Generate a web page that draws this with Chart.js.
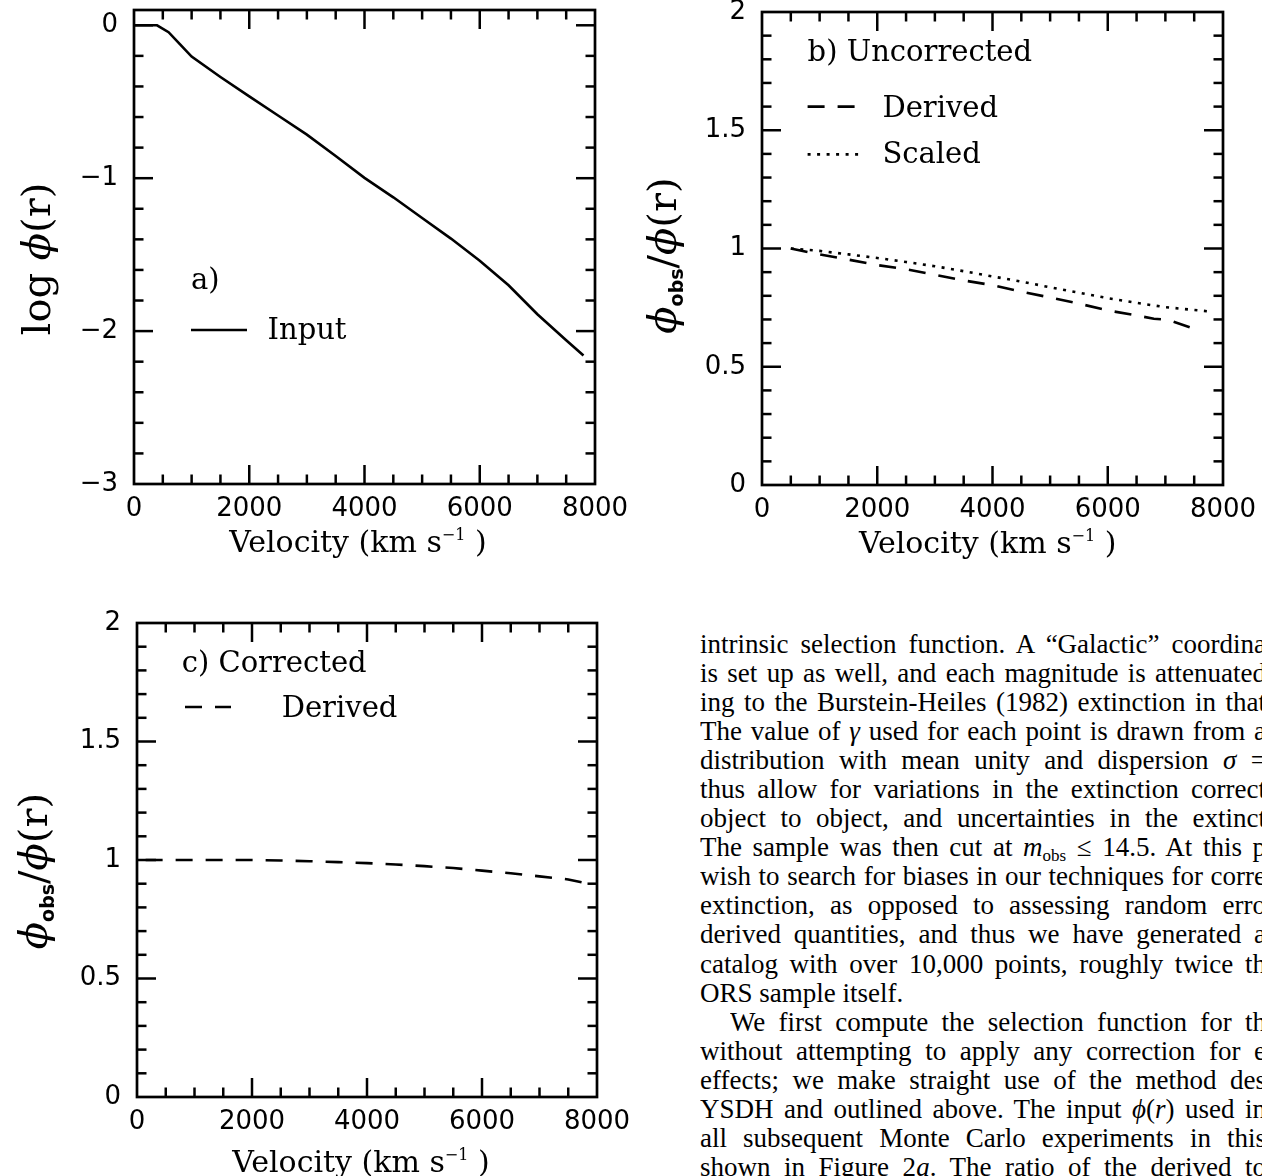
<!DOCTYPE html>
<html>
<head>
<meta charset="utf-8">
<script src="https://cdn.jsdelivr.net/npm/chart.js@4.4.1/dist/chart.umd.min.js"></script>
<style>
html,body{margin:0;padding:0;background:#fff;}
body{width:1262px;height:1176px;position:relative;overflow:hidden;}
canvas{position:absolute;}
#text{position:absolute;left:700px;top:630px;width:562px;height:546px;overflow:hidden;
  font-family:"Liberation Serif","Times New Roman",serif;font-size:27px;color:#000;}
.ln{height:29.05px;line-height:29.05px;width:566px;text-align:justify;text-align-last:justify;overflow:hidden;}
.ln.last{text-align:left;text-align-last:left;}
.ln.ind{margin-left:30px;width:536px;}
.sb{font-size:17px;vertical-align:-5px;line-height:0;}
</style>
</head>
<body>
<canvas id="chartA" width="640" height="590" style="left:0;top:0;width:640px;height:590px"></canvas>
<canvas id="chartB" width="632" height="590" style="left:630px;top:0;width:632px;height:590px"></canvas>
<canvas id="chartC" width="640" height="576" style="left:0;top:600px;width:640px;height:576px"></canvas>
<div id="text">
<div class="ln">intrinsic selection function. A “Galactic” coordina</div>
<div class="ln">is set up as well, and each magnitude is attenuated</div>
<div class="ln">ing to the Burstein-Heiles (1982) extinction in that d</div>
<div class="ln">The value of <i>γ</i> used for each point is drawn from a G</div>
<div class="ln">distribution with mean unity and dispersion <i>σ</i> =</div>
<div class="ln">thus allow for variations in the extinction correct</div>
<div class="ln">object to object, and uncertainties in the extinct</div>
<div class="ln">The sample was then cut at <i>m</i><span class="sb">obs</span> ≤ 14.5. At this p</div>
<div class="ln">wish to search for biases in our techniques for corre</div>
<div class="ln">extinction, as opposed to assessing random erro</div>
<div class="ln">derived quantities, and thus we have generated a</div>
<div class="ln">catalog with over 10,000 points, roughly twice th</div>
<div class="ln last">ORS sample itself.</div>
<div class="ln ind">We first compute the selection function for th</div>
<div class="ln">without attempting to apply any correction for e</div>
<div class="ln">effects; we make straight use of the method des</div>
<div class="ln">YSDH and outlined above. The input <i>ϕ</i>(<i>r</i>) used in</div>
<div class="ln">all subsequent Monte Carlo experiments in this</div>
<div class="ln">shown in Figure 2<i>a</i>. The ratio of the derived to</div>
</div>
<script>
// ---------------- data ----------------
const velocityTicks = [0, 2000, 4000, 6000, 8000];
const logPhiTicks = [-3, -2, -1, 0];
const ratioTicks = [0, 0.5, 1, 1.5, 2];

// (a) input selection function
const inputVelocity = [0, 400, 600, 800, 1000, 1500, 2000, 2500, 3000, 3500, 4000, 4500, 5000, 5500, 6000, 6500, 7000, 7500, 7800];
const inputLogPhi   = [0, 0, -0.045, -0.125, -0.205, -0.338, -0.465, -0.59, -0.715, -0.855, -0.998, -1.125, -1.26, -1.395, -1.54, -1.7, -1.89, -2.06, -2.16];

// (b) uncorrected
const uncorrDerivedVelocity = [500, 1000, 1500, 2000, 2500, 3000, 3500, 4000, 4500, 5000, 5500, 6000, 6500, 6800, 7050, 7550];
const uncorrDerivedRatio    = [1.0, 0.975, 0.953, 0.93, 0.912, 0.889, 0.865, 0.845, 0.817, 0.793, 0.767, 0.738, 0.717, 0.703, 0.698, 0.656];
const uncorrScaledVelocity  = [500, 1000, 1500, 2000, 2500, 3000, 3500, 4000, 4500, 5000, 5500, 6000, 6500, 7000, 7500, 7800];
const uncorrScaledRatio     = [1.0, 0.99, 0.975, 0.96, 0.943, 0.925, 0.904, 0.882, 0.86, 0.836, 0.813, 0.79, 0.77, 0.752, 0.74, 0.733];

// (c) corrected
const corrDerivedVelocity = [150, 1000, 2000, 2500, 3000, 3500, 4000, 4500, 5000, 5500, 6000, 6500, 7000, 7500, 7750];
const corrDerivedRatio    = [1.0, 1.0, 1.0, 0.998, 0.995, 0.991, 0.987, 0.981, 0.974, 0.966, 0.955, 0.944, 0.931, 0.918, 0.905];

// ---------------- helpers ----------------
const INK = '#000';
const SERIF = '"DejaVu Serif", serif';
const SANS = '"DejaVu Sans", sans-serif';
const DASH = [17, 13];
const DOT = [3, 6.5];
const TICK_FONT = { family: SANS, size: 26 };

function pts(xs, ys) { return xs.map((x, i) => ({ x: x, y: ys[i] })); }
function fmtTick(v) { return v < 0 ? '\u2212' + String(-v) : String(v); }

function drawRich(ctx, segs, x, y) {
  let total = 0;
  segs.forEach(s => { ctx.font = s.font; s.w = ctx.measureText(s.t).width; total += s.w; });
  let cx = x - total / 2;
  segs.forEach(s => { ctx.font = s.font; ctx.fillText(s.t, cx, y + (s.dy || 0)); cx += s.w; });
}

const decorPlugin = {
  id: 'panelDecor',
  afterDraw(chart, args, o) {
    const ctx = chart.ctx, ca = chart.chartArea, xs = chart.scales.x, ys = chart.scales.y;
    ctx.save();
    ctx.strokeStyle = INK; ctx.fillStyle = INK; ctx.lineCap = 'butt';
    // frame
    ctx.lineWidth = 2.7;
    ctx.strokeRect(ca.left, ca.top, ca.right - ca.left, ca.bottom - ca.top);
    // inward ticks
    ctx.lineWidth = 2.5;
    const seg = (x1, y1, x2, y2) => { ctx.beginPath(); ctx.moveTo(x1, y1); ctx.lineTo(x2, y2); ctx.stroke(); };
    for (let k = 1; k < o.xMinorCount; k++) {
      const v = xs.min + k * o.xMinorStep;
      const px = xs.getPixelForValue(v);
      const len = velocityTicks.includes(v) ? 19 : 9.5;
      seg(px, ca.bottom, px, ca.bottom - len);
      seg(px, ca.top, px, ca.top + len);
    }
    for (let k = 0; k <= o.yMinorCount; k++) {
      const v = Math.round((o.yMinorFrom + k * o.yMinorStep) * 1000) / 1000;
      const py = ys.getPixelForValue(v);
      if (py < ca.top + 1 || py > ca.bottom - 1) continue;
      const len = o.yMajor.includes(v) ? 19 : 9.5;
      seg(ca.left, py, ca.left + len, py);
      seg(ca.right, py, ca.right - len, py);
    }
    // legend samples
    ctx.lineWidth = 2.6;
    (o.samples || []).forEach(s => {
      ctx.setLineDash(s.dash); ctx.beginPath(); ctx.moveTo(s.x1, s.y); ctx.lineTo(s.x2, s.y); ctx.stroke();
    });
    ctx.setLineDash([]);
    // labels
    ctx.textBaseline = 'alphabetic'; ctx.textAlign = 'left';
    (o.labels || []).forEach(l => { ctx.font = l.font || ('29px ' + SERIF); ctx.fillText(l.text, l.x, l.y); });
    // x title
    drawRich(ctx, [
      { t: 'Velocity (km s', font: '30px ' + SERIF },
      { t: '\u22121', font: '16px ' + SERIF, dy: -12 },
      { t: ' )', font: '30px ' + SERIF }
    ], o.xTitle.cx, o.xTitle.y);
    // y title (rotated)
    ctx.save();
    ctx.translate(o.yTitle.bx, o.yTitle.cy);
    ctx.rotate(-Math.PI / 2);
    drawRich(ctx, o.yTitle.segs, 0, 0);
    ctx.restore();
    ctx.restore();
  }
};

function makeChart(id, cfg) {
  return new Chart(document.getElementById(id), {
    type: 'line',
    data: { datasets: cfg.datasets },
    options: {
      responsive: false, animation: false, devicePixelRatio: 1,
      layout: { padding: cfg.padding },
      elements: { point: { radius: 0 }, line: { tension: 0, borderWidth: 2.6, borderColor: INK, borderCapStyle: 'butt' } },
      plugins: { legend: { display: false }, tooltip: { enabled: false }, panelDecor: cfg.decor },
      scales: {
        x: {
          type: 'linear', min: 0, max: 8000,
          grid: { display: false, drawTicks: false }, border: { display: false },
          ticks: { color: INK, font: TICK_FONT, padding: cfg.xPad, maxRotation: 0, autoSkip: false, callback: v => fmtTick(v) },
          afterBuildTicks: s => { s.ticks = velocityTicks.map(v => ({ value: v })); },
          afterFit: s => { s.height = cfg.xAxisHeight; s.paddingLeft = 0; s.paddingRight = 0; }
        },
        y: {
          type: 'linear', min: cfg.yMin, max: cfg.yMax,
          grid: { display: false, drawTicks: false }, border: { display: false },
          ticks: { color: INK, font: TICK_FONT, padding: 16, autoSkip: false, callback: v => fmtTick(v) },
          afterBuildTicks: s => { s.ticks = cfg.yTicks.map(v => ({ value: v })); },
          afterFit: s => { s.width = cfg.yAxisWidth; s.paddingTop = 0; s.paddingBottom = 0; }
        }
      }
    },
    plugins: [decorPlugin]
  });
}

const phiSegs = (sz) => [
  { t: '\u03D5', font: 'italic ' + sz + 'px ' + SERIF },
  { t: 'obs', font: 'bold 19px ' + SANS, dy: 7 },
  { t: '/', font: sz + 'px ' + SERIF },
  { t: '\u03D5', font: 'italic ' + sz + 'px ' + SERIF },
  { t: '(r)', font: sz + 'px ' + SERIF }
];

// (a)
makeChart('chartA', {
  datasets: [{ data: pts(inputVelocity, inputLogPhi) }],
  padding: { left: 0, top: 10, right: 45, bottom: 0 },
  yAxisWidth: 134, xAxisHeight: 106, xPad: 10,
  yMin: -3, yMax: 0.1, yTicks: logPhiTicks,
  decor: {
    xMinorStep: 500, xMinorCount: 16,
    yMinorFrom: -3, yMinorStep: 0.2, yMinorCount: 15, yMajor: logPhiTicks,
    labels: [{ text: 'a)', x: 191, y: 288.5 }, { text: 'Input', x: 267.5, y: 338.5 }],
    samples: [{ x1: 191, x2: 247, y: 330, dash: [] }],
    xTitle: { cx: 358, y: 551.5 },
    yTitle: { bx: 50, cy: 259, segs: [
      { t: 'log ', font: '40px ' + SERIF },
      { t: '\u03D5', font: 'italic 40px ' + SERIF },
      { t: '(r)', font: '40px ' + SERIF }
    ] }
  }
});

// (b)
makeChart('chartB', {
  datasets: [
    { data: pts(uncorrDerivedVelocity, uncorrDerivedRatio), borderDash: DASH },
    { data: pts(uncorrScaledVelocity, uncorrScaledRatio), borderDash: DOT }
  ],
  padding: { left: 0, top: 12, right: 39, bottom: 0 },
  yAxisWidth: 132, xAxisHeight: 105, xPad: 10,
  yMin: 0, yMax: 2, yTicks: ratioTicks,
  decor: {
    xMinorStep: 500, xMinorCount: 16,
    yMinorFrom: 0, yMinorStep: 0.1, yMinorCount: 20, yMajor: ratioTicks,
    labels: [
      { text: 'b) Uncorrected', x: 177.6, y: 60.7 },
      { text: 'Derived', x: 252.4, y: 117 },
      { text: 'Scaled', x: 252.4, y: 163 }
    ],
    samples: [
      { x1: 177.6, x2: 228, y: 106.6, dash: DASH },
      { x1: 177.6, x2: 231, y: 154.4, dash: DOT }
    ],
    xTitle: { cx: 357.7, y: 553.3 },
    yTitle: { bx: 46, cy: 255.5, segs: phiSegs(40) }
  }
});

// (c)
makeChart('chartC', {
  datasets: [{ data: pts(corrDerivedVelocity, corrDerivedRatio), borderDash: DASH }],
  padding: { left: 0, top: 23, right: 43, bottom: 0 },
  yAxisWidth: 137, xAxisHeight: 79, xPad: 10,
  yMin: 0, yMax: 2, yTicks: ratioTicks,
  decor: {
    xMinorStep: 500, xMinorCount: 16,
    yMinorFrom: 0, yMinorStep: 0.1, yMinorCount: 20, yMajor: ratioTicks,
    labels: [
      { text: 'c) Corrected', x: 181.7, y: 71.7 },
      { text: 'Derived', x: 281.7, y: 116.7 }
    ],
    samples: [{ x1: 185, x2: 231, y: 107, dash: DASH }],
    xTitle: { cx: 361, y: 571.7 },
    yTitle: { bx: 46.5, cy: 271, segs: phiSegs(40) }
  }
});
</script>
</body>
</html>
